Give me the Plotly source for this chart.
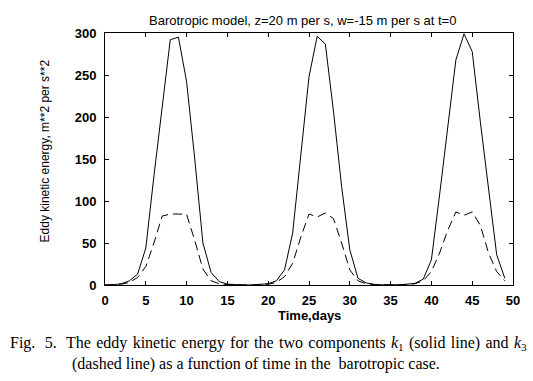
import plotly.graph_objects as go

time_days = list(range(0, 50))

k1_energy = [0, 0.3, 1.5, 5, 13, 44, 130, 212, 292, 295,
             242, 150, 50, 15, 4, 1, 0.3, 0, 0.1, 0.5,
             1.5, 5, 18, 62, 157, 248, 296, 287, 207, 117,
             42, 8, 2.5, 0.8, 0.2, 0, 0.3, 1, 2, 7,
             30, 107, 185, 268, 299, 278, 194, 113, 36, 8]

k3_energy = [0, 0.1, 1, 3, 9, 22, 50, 82, 84.5, 84.5,
             84, 53, 19, 5, 1.5, 0.5, 0.1, 0, 0, 0.3,
             1, 3, 10, 26, 57, 84.5, 81, 85.7, 79, 50,
             18, 5, 1.5, 0.5, 0.1, 0, 0.1, 0.5, 1.5, 5,
             16, 38, 65, 87, 83, 87, 71, 38, 16, 5]

x_ticks = [0, 5, 10, 15, 20, 25, 30, 35, 40, 45, 50]
y_ticks = [0, 50, 100, 150, 200, 250, 300]

title_text = "Barotropic model, z=20 m per s, w=-15 m per s at t=0"
x_title = "Time,days"
y_title = "Eddy kinetic energy, m**2 per s**2"
sp = " &#8202;"
caption_1 = ("Fig.&nbsp;" + sp + "5.&nbsp;" + sp +
             sp.join(["The", "eddy", "kinetic", "energy", "for", "the", "two", "components",
                      "<i>k</i><sub>1</sub>", "(solid", "line)", "and", "<i>k</i><sub>3</sub>"]))
caption_2 = "(dashed line) as a function of time in the&nbsp;&nbsp;barotropic case."

fig = go.Figure()
fig.add_trace(go.Scatter(x=time_days, y=k1_energy, mode="lines",
                         line=dict(color="black", width=1), showlegend=False))
fig.add_trace(go.Scatter(x=time_days, y=k3_energy, mode="lines",
                         line=dict(color="black", width=1, dash="9px,5px"), showlegend=False))

sans = "Liberation Sans, Arial, sans-serif"
axis_font = dict(family=sans, size=12, color="black")
tick_font = dict(family=sans, size=13, color="black", weight="bold")

fig.update_layout(
    width=533, height=381,
    margin=dict(l=105, r=20, t=33, b=96),
    paper_bgcolor="white", plot_bgcolor="white",
    font=axis_font,
    xaxis=dict(range=[0, 50], tickvals=x_ticks, ticks="inside", ticklen=4,
               tickcolor="black", showline=True, linecolor="black", linewidth=1,
               mirror="ticks", showgrid=False, zeroline=False, tickfont=tick_font,
               ticklabelstandoff=3),
    yaxis=dict(range=[0, 300], tickvals=y_ticks, ticks="inside", ticklen=4,
               tickcolor="black", showline=True, linecolor="black", linewidth=1,
               mirror="ticks", showgrid=False, zeroline=False, tickfont=tick_font,
               ticklabelstandoff=5),
)

fig.add_annotation(text=title_text, xref="paper", yref="paper", x=0.485, y=1.0,
                   yshift=13, showarrow=False, font=dict(size=13, family=sans),
                   xanchor="center", yanchor="middle")
fig.add_annotation(text=x_title, xref="paper", yref="paper", x=0.5, y=0,
                   yshift=-30, showarrow=False,
                   font=dict(family=sans, size=13, color="black", weight="bold"),
                   xanchor="center", yanchor="middle")
fig.add_annotation(text=y_title, xref="paper", yref="paper", x=0, y=0.53,
                   xshift=-60, showarrow=False, font=axis_font, textangle=-90,
                   xanchor="center", yanchor="middle")
serif = dict(family="Liberation Serif, Times New Roman, serif", size=16, color="black")
fig.add_annotation(text=caption_1, xref="paper", yref="paper", x=0, y=0,
                   xshift=-97, yshift=-58, showarrow=False, font=serif,
                   xanchor="left", yanchor="middle")
fig.add_annotation(text=caption_2, xref="paper", yref="paper", x=0, y=0,
                   xshift=-35, yshift=-79, showarrow=False, font=serif,
                   xanchor="left", yanchor="middle")

fig.write_html("out.html", config={"displayModeBar": False},
               post_script="document.body.style.margin='0';")
